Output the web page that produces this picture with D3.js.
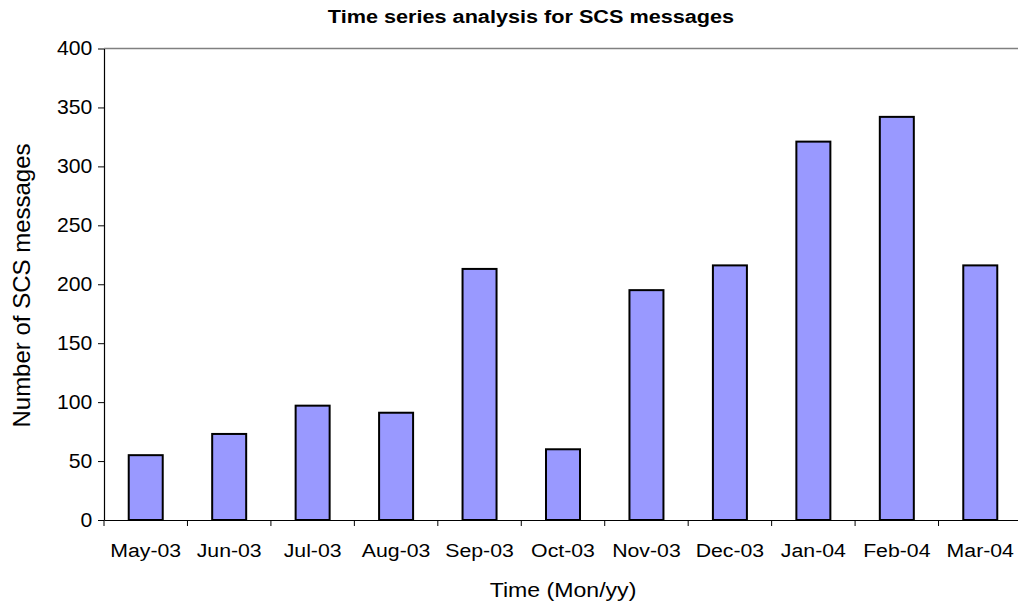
<!DOCTYPE html>
<html>
<head>
<meta charset="utf-8">
<script src="https://cdn.jsdelivr.net/npm/d3@7"></script>
<style>
  body { margin: 0; background: #fff; }
  text { font-family: Arial, "Liberation Sans", sans-serif; }
</style>
</head>
<body>
<svg id="chart" width="1018" height="604"></svg>
<script>
const months = ["May-03", "Jun-03", "Jul-03", "Aug-03", "Sep-03", "Oct-03",
                "Nov-03", "Dec-03", "Jan-04", "Feb-04", "Mar-04"];
const messages = [55, 73, 97, 91, 213, 60, 195, 216, 321, 342, 216];
const yTicks = [0, 50, 100, 150, 200, 250, 300, 350, 400];

const svg = d3.select("#chart");
const plotLeft = 104, plotRight = 1022, plotTop = 48.5, plotBottom = 520;

const x = d3.scaleBand().domain(months).range([plotLeft, plotRight]);
const y = d3.scaleLinear().domain([0, 400]).range([plotBottom, plotTop]);

// top gridline (plot frame)
svg.append("line")
  .attr("x1", plotLeft).attr("x2", 1018)
  .attr("y1", y(400)).attr("y2", y(400))
  .attr("stroke", "#808080").attr("stroke-width", 1.5);

// bars
const barW = 34;
svg.append("g").selectAll("rect")
  .data(months)
  .join("rect")
  .attr("x", (d) => x(d) + x.bandwidth() / 2 - barW / 2)
  .attr("y", (d, i) => y(messages[i]))
  .attr("width", barW)
  .attr("height", (d, i) => y(0) - y(messages[i]))
  .attr("fill", "#9999ff")
  .attr("stroke", "#000")
  .attr("stroke-width", 2);

// y axis
const yAxis = svg.append("g")
  .attr("transform", `translate(${plotLeft},0)`)
  .call(d3.axisLeft(y).tickValues(yTicks).tickSize(6).tickSizeOuter(0).tickPadding(5));
yAxis.select(".domain").attr("stroke", "#000").attr("stroke-width", 1.2);
yAxis.selectAll(".tick line").attr("stroke", "#000");
yAxis.selectAll(".tick text").attr("font-size", 20).attr("fill", "#000")
  .attr("transform", "scale(1.06,1)");

// x axis
const xAxis = svg.append("g")
  .attr("transform", `translate(0,${plotBottom})`)
  .call(d3.axisBottom(x).tickSize(0).tickPadding(0));
xAxis.select(".domain").attr("stroke", "#000").attr("stroke-width", 1.2);
xAxis.selectAll(".tick text")
  .attr("font-size", 19).attr("fill", "#000")
  .attr("dy", null).attr("y", 37)
  .attr("transform", "scale(1.12,1)");
// category boundary ticks
svg.append("g").selectAll("line")
  .data(months)
  .join("line")
  .attr("x1", (d) => x(d)).attr("x2", (d) => x(d))
  .attr("y1", plotBottom).attr("y2", plotBottom + 6)
  .attr("stroke", "#000").attr("stroke-width", 1);

// titles
svg.append("text")
  .attr("transform", "translate(531,23) scale(1.14,1)")
  .attr("text-anchor", "middle")
  .attr("font-size", 19).attr("font-weight", "bold")
  .text("Time series analysis for SCS messages");

svg.append("text")
  .attr("transform", "translate(563,596.5) scale(1.1,1)")
  .attr("text-anchor", "middle")
  .attr("font-size", 21)
  .text("Time (Mon/yy)");

svg.append("text")
  .attr("transform", "translate(29.5,285.5) rotate(-90)")
  .attr("text-anchor", "middle")
  .attr("font-size", 24)
  .text("Number of SCS messages");
</script>
</body>
</html>
